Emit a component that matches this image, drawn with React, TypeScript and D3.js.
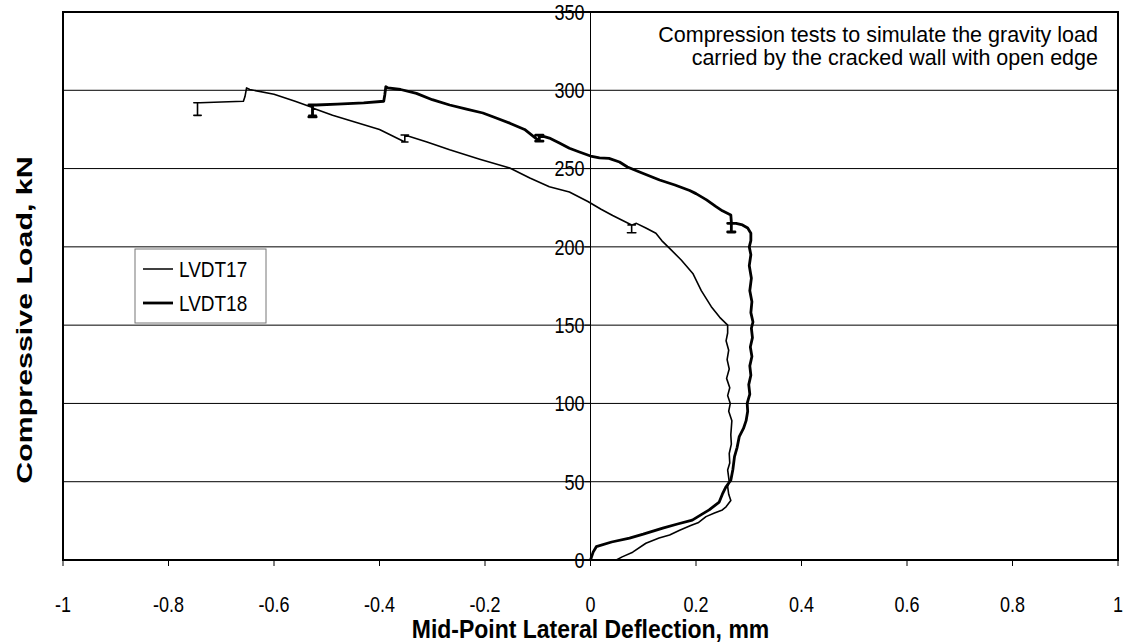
import React from "react";
import * as d3 from "d3";

// ---- Data (deflection mm, load kN) ----
const lvdt17X = [
  0.049, 0.06, 0.08, 0.105, 0.13, 0.15, 0.169, 0.19, 0.205, 0.219, 0.235, 0.25, 0.257, 0.266, 0.262, 0.26,
  0.263, 0.26, 0.264, 0.263, 0.267, 0.266, 0.268, 0.262, 0.265, 0.26, 0.264, 0.258, 0.263, 0.259, 0.262,
  0.257, 0.26, 0.26, 0.245, 0.229, 0.21, 0.194, 0.172, 0.15, 0.135, 0.124, 0.105, 0.087,
  0.079, 0.071, 0.085, 0.078, 0.078, 0.07, 0.086, 0.078, 0.078,
  0.06, 0.042, 0.02, -0.005, -0.04, -0.078, -0.115, -0.153, -0.21, -0.267, -0.31, -0.352,
  -0.352, -0.359, -0.345, -0.352, -0.352, -0.358, -0.346, -0.352,
  -0.4, -0.45, -0.489, -0.527,
  -0.527, -0.534, -0.52, -0.527, -0.527,
  -0.56, -0.6, -0.646, -0.652, -0.655, -0.658, -0.7, -0.74, -0.745,
  -0.752, -0.738, -0.745, -0.745, -0.752, -0.738, -0.745,
];
const lvdt17Y = [
  0, 2, 5, 10.7, 14, 16, 19, 22, 24, 27.7, 30, 32, 34, 38, 42, 46.8,
  50, 57.5, 62, 68, 74, 80, 89, 95, 100, 105, 110, 116, 122, 128, 134,
  140, 145, 150, 155, 161.8, 172, 183, 191.6, 199, 204, 208.7, 212, 215,
  214, 214, 214, 214, 209, 209, 209, 209, 214,
  217, 220, 224, 229, 235, 238.4, 244, 250.4, 256, 262, 267, 271.4,
  271.4, 271.4, 271.4, 271.4, 267, 267, 267, 267,
  275, 280, 284, 288.7,
  284, 284, 284, 284, 289,
  293, 297.5, 300.5, 301.5, 296, 293, 292.5, 292, 292,
  292, 292, 292, 284, 284, 284, 284,
];

const lvdt18X = [
  0, 0.002, 0.005, 0.011, 0.04, 0.074, 0.1, 0.137, 0.165, 0.193, 0.21, 0.225, 0.244, 0.25, 0.257, 0.266,
  0.27, 0.273, 0.278, 0.282, 0.29, 0.295, 0.298, 0.297, 0.302, 0.3, 0.304, 0.302, 0.306, 0.303, 0.307,
  0.305, 0.308, 0.304, 0.306, 0.302, 0.305, 0.301, 0.304, 0.301, 0.304, 0.304, 0.298, 0.288, 0.276,
  0.267, 0.26, 0.274, 0.267, 0.267, 0.26, 0.274, 0.267, 0.267,
  0.266, 0.25, 0.238, 0.22, 0.2, 0.188, 0.16, 0.131, 0.093, 0.07,
  0.055, 0.035, 0.017, 0.0, -0.021, -0.04, -0.059, -0.078, -0.097,
  -0.097, -0.104, -0.09, -0.097, -0.097, -0.104, -0.09, -0.097,
  -0.125, -0.153, -0.18, -0.204, -0.235, -0.267, -0.3, -0.33, -0.36, -0.384, -0.388, -0.39, -0.392, -0.43,
  -0.48, -0.52, -0.527, -0.534, -0.52, -0.527, -0.527, -0.534, -0.52, -0.527,
];
const lvdt18Y = [
  0, 2, 5, 8.5, 11.5, 14, 16.5, 20.4, 23, 25.5, 29, 32, 37, 42, 46.8, 51,
  58, 66, 72, 78.8, 84, 89, 95, 100, 106, 112, 118, 124, 130, 136, 142,
  148, 152, 158, 165, 172, 180, 188, 195, 200, 204, 208.7, 212, 214, 215,
  215, 215, 215, 215, 209.5, 209.5, 209.5, 209.5, 216,
  220.4, 223, 225.7, 230, 234, 236, 239.5, 242.7, 247.8, 251,
  254.2, 256.5, 256.8, 258, 260.6, 263, 266.3, 269.5, 271.4,
  271.4, 271.4, 271.4, 271.4, 267.5, 267.5, 267.5, 267.5,
  275, 279, 282.5, 285.5, 288, 290.6, 294, 298, 300.5, 301.5, 302.3, 297, 293, 292,
  291.2, 290.6, 290.6, 290.6, 290.6, 290.6, 283, 283, 283, 283,
];

const xTicks = [-1, -0.8, -0.6, -0.4, -0.2, 0, 0.2, 0.4, 0.6, 0.8, 1];
const yTicks = [0, 50, 100, 150, 200, 250, 300, 350];
const seriesNames = ["LVDT17", "LVDT18"];
const annotationLines = [
  "Compression tests to simulate the gravity load",
  "carried by the cracked wall with open edge",
];

const W = 1131;
const H = 644;
const FONT = "'Liberation Sans', Arial, Helvetica, sans-serif";
const SY = 1.2; // vertical stretch of glyphs, as in the (resized) reference

export default function App() {
  const left = 63, right = 1118, top = 12, bottom = 560;
  const x = d3.scaleLinear().domain([-1, 1]).range([left, right]);
  const y = d3.scaleLinear().domain([0, 350]).range([bottom, top]);

  const s17: [number, number][] = lvdt17X.map((v, i) => [v, lvdt17Y[i]]);
  const s18: [number, number][] = lvdt18X.map((v, i) => [v, lvdt18Y[i]]);
  const line = d3
    .line<[number, number]>()
    .x((d) => x(d[0]))
    .y((d) => y(d[1]));

  const x0 = x(0);

  const T = (tx: number, ty: number, sy = SY) => `translate(${tx},${ty}) scale(1,${sy})`;

  return (
    <svg
      width={W}
      height={H}
      style={{ position: "absolute", left: 0, top: 0, background: "#fff" }}
      fontFamily={FONT}
    >
      <rect x={0} y={0} width={W} height={H} fill="#fff" />
      {/* horizontal gridlines */}
      {yTicks.slice(1, -1).map((t) => (
        <line key={t} x1={left} x2={right} y1={y(t)} y2={y(t)} stroke="#000" strokeWidth={1} />
      ))}
      {/* y axis at x = 0 */}
      <line x1={x0} x2={x0} y1={top} y2={bottom} stroke="#000" strokeWidth={1} />
      {yTicks.map((t) => (
        <g key={t}>
          <line x1={x0 - 6} x2={x0} y1={y(t)} y2={y(t)} stroke="#000" strokeWidth={1} />
          <text transform={T(x0 - 6, y(t))} dy="0.36em" textAnchor="end" fontSize={18}>
            {t}
          </text>
        </g>
      ))}
      {/* plot border */}
      <rect x={left} y={top} width={right - left} height={bottom - top} fill="none" stroke="#000" strokeWidth={2} />
      {/* x axis ticks */}
      {xTicks.map((t) => (
        <g key={t}>
          <line x1={x(t)} x2={x(t)} y1={bottom} y2={bottom + 6} stroke="#000" strokeWidth={1} />
          <text transform={T(x(t), 604)} dy="0.36em" textAnchor="middle" fontSize={18}>
            {t}
          </text>
        </g>
      ))}
      {/* series */}
      <path d={line(s17) || ""} fill="none" stroke="#000" strokeWidth={1.6} strokeLinejoin="round" />
      <path d={line(s18) || ""} fill="none" stroke="#000" strokeWidth={2.8} strokeLinejoin="round" />
      {/* annotation */}
      {annotationLines.map((l, i) => (
        <text key={i} transform={T(1098, 34 + i * 23, 1)} dy="0.36em" textAnchor="end" fontSize={21.5}>
          {l}
        </text>
      ))}
      {/* legend */}
      <rect x={135} y={249} width={131} height={74} fill="#fff" stroke="#777" strokeWidth={1} />
      {seriesNames.map((n, i) => (
        <g key={n}>
          <line x1={143} x2={173} y1={269 + i * 34} y2={269 + i * 34} stroke="#000" strokeWidth={i === 0 ? 1.5 : 2.8} />
          <text transform={T(179, 269 + i * 34)} dy="0.36em" fontSize={19}>
            {n}
          </text>
        </g>
      ))}
      {/* axis titles */}
      <text transform={T((left + right) / 2, 629, 1.1)} dy="0.36em" textAnchor="middle" fontSize={23} fontWeight="bold">
        Mid-Point Lateral Deflection, mm
      </text>
      <text
        transform={`translate(24,320) rotate(-90) scale(1.35,1)`}
        dy="0.36em"
        textAnchor="middle"
        fontSize={22.5}
        fontWeight="bold"
      >
        Compressive Load, kN
      </text>
    </svg>
  );
}
